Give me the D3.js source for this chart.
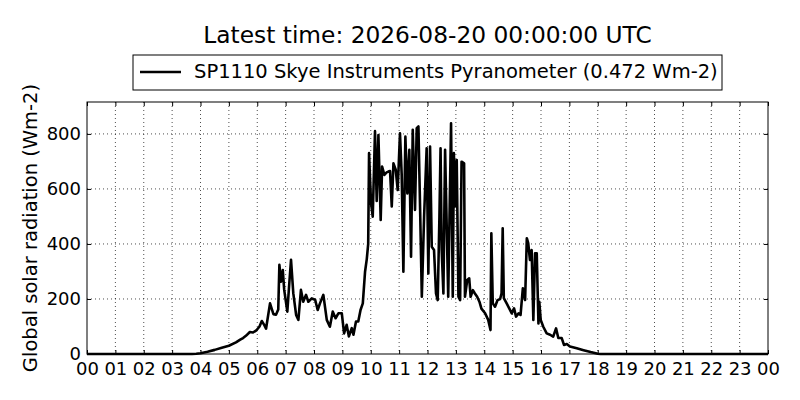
<!DOCTYPE html>
<html><head><meta charset="utf-8">
<script src="https://cdn.jsdelivr.net/npm/d3@7"></script>
<style>body{margin:0;background:#fff}svg{display:block}text{font-family:"DejaVu Sans",sans-serif;fill:#000}</style>
</head><body><svg id="c" width="800" height="400"></svg>
<script>
const titleText = "Latest time: 2026-08-20 00:00:00 UTC";
const seriesName = "SP1110 Skye Instruments Pyranometer (0.472 Wm-2)";
const yLabel = "Global solar radiation (Wm-2)";
const hourTicks = d3.range(0, 25);
const hourTickLabels = ["00","01","02","03","04","05","06","07","08","09","10","11","12","13","14","15","16","17","18","19","20","21","22","23","00"];
const yTicks = [0, 200, 400, 600, 800];
const hours = [0,3.7,3.85,4.0,4.25,4.5,4.75,5.0,5.25,5.4,5.5,5.6,5.74,5.85,5.98,6.08,6.16,6.25,6.31,6.45,6.57,6.66,6.74,6.78,6.84,6.9,6.95,7.06,7.13,7.19,7.27,7.37,7.45,7.54,7.62,7.72,7.8,7.92,8.04,8.13,8.21,8.33,8.45,8.56,8.66,8.76,8.86,8.98,9.06,9.15,9.23,9.33,9.39,9.48,9.56,9.64,9.72,9.80,9.86,9.91,9.94,10.01,10.07,10.15,10.21,10.27,10.35,10.40,10.48,10.56,10.62,10.68,10.74,10.80,10.88,10.95,11.03,11.09,11.15,11.22,11.29,11.36,11.42,11.48,11.56,11.62,11.68,11.74,11.80,11.88,11.97,12.03,12.09,12.15,12.23,12.30,12.36,12.42,12.46,12.50,12.56,12.62,12.73,12.83,12.89,12.93,12.97,13.03,13.09,13.15,13.20,13.29,13.32,13.40,13.47,13.52,13.60,13.67,13.75,13.83,13.90,14.03,14.14,14.22,14.25,14.30,14.38,14.47,14.56,14.61,14.65,14.69,14.79,14.88,14.97,15.05,15.12,15.21,15.28,15.36,15.44,15.50,15.55,15.61,15.67,15.73,15.79,15.85,15.91,15.94,15.99,16.08,16.2,16.32,16.43,16.53,16.61,16.73,16.81,16.91,17.02,17.26,17.5,17.75,18.0,18.1,24];
const radiation = [0,0,1,3,8,15,23,30,42,52,58,66,80,78,87,100,120,105,92,184,145,143,162,324,263,305,233,154,258,342,221,142,124,233,190,215,190,202,197,160,184,215,124,99,154,130,148,148,75,106,64,94,70,118,118,160,184,300,345,400,730,549,499,810,556,796,487,681,651,660,663,665,536,693,670,596,802,653,299,790,584,742,354,815,524,821,827,524,208,499,748,293,754,390,378,220,196,499,748,378,220,742,208,839,208,730,536,705,208,196,699,693,208,269,275,208,232,220,208,190,165,148,124,87,439,184,172,196,200,221,457,203,184,166,148,166,136,148,142,239,196,421,403,342,378,124,366,366,111,190,124,99,75,70,63,93,58,58,33,36,27,21,14,7,1,0,0];

const svg = d3.select("#c");
const m = {l:87, r:768, t:102, b:354};
const x = d3.scaleLinear().domain([0,24]).range([m.l, m.r]);
const y = d3.scaleLinear().domain([0,916]).range([m.b, m.t]);

// grid
const g = svg.append("g");
g.selectAll(".gx").data(hourTicks.slice(1,-1)).enter().append("line")
  .attr("x1", d=>x(d)).attr("x2", d=>x(d)).attr("y1", m.t).attr("y2", m.b)
  .attr("stroke","#000").attr("stroke-width",0.7).attr("stroke-dasharray","1,3");
g.selectAll(".gy").data(yTicks.slice(1)).enter().append("line")
  .attr("x1", m.l).attr("x2", m.r).attr("y1", d=>y(d)).attr("y2", d=>y(d))
  .attr("stroke","#000").attr("stroke-width",0.7).attr("stroke-dasharray","1,3");

// line
const data = hours.map((h,i)=>[h, radiation[i]]);
svg.append("path").datum(data)
  .attr("fill","none").attr("stroke","#000").attr("stroke-width",2.6).attr("stroke-linejoin","round")
  .attr("d", d3.line().x(d=>x(d[0])).y(d=>y(d[1])));

// axes
const fs = "18px";
const xb = svg.append("g").attr("transform",`translate(0,${m.b})`)
  .call(d3.axisBottom(x).tickValues(hourTicks).tickFormat((d,i)=>hourTickLabels[i]).tickSize(-4).tickPadding(8));
const xt = svg.append("g").attr("transform",`translate(0,${m.t})`)
  .call(d3.axisTop(x).tickValues(hourTicks).tickFormat("").tickSize(-4));
const yl = svg.append("g").attr("transform",`translate(${m.l},0)`)
  .call(d3.axisLeft(y).tickValues(yTicks).tickSize(-4).tickPadding(6));
const yr = svg.append("g").attr("transform",`translate(${m.r},0)`)
  .call(d3.axisRight(y).tickValues(yTicks).tickFormat("").tickSize(-4));
[xb,xt,yl,yr].forEach(a=>{
  a.selectAll("text").style("font-family","DejaVu Sans").style("font-size",fs).attr("fill","#000");
  a.select(".domain").remove();
  a.selectAll(".tick line").attr("stroke","#000");
});
svg.append("rect").attr("x",m.l).attr("y",m.t).attr("width",m.r-m.l).attr("height",m.b-m.t)
  .attr("fill","none").attr("stroke","#000").attr("stroke-width",1);

// title
svg.append("text").attr("x",(m.l+m.r)/2).attr("y",43).attr("text-anchor","middle")
  .style("font-size","23.3px").text(titleText);

// legend
const lg = svg.append("g");
lg.append("rect").attr("x",133).attr("y",55).attr("width",589).attr("height",35)
  .attr("fill","#fff").attr("stroke","#000").attr("stroke-width",1);
lg.append("line").attr("x1",140).attr("x2",181).attr("y1",72).attr("y2",72)
  .attr("stroke","#000").attr("stroke-width",2.6);
lg.append("text").attr("x",194).attr("y",78).style("font-size","19.5px").text(seriesName);

// y label
svg.append("text").attr("transform",`translate(37,${(m.t+m.b)/2}) rotate(-90)`)
  .attr("text-anchor","middle").style("font-size","19.5px").text(yLabel);
</script></body></html>
